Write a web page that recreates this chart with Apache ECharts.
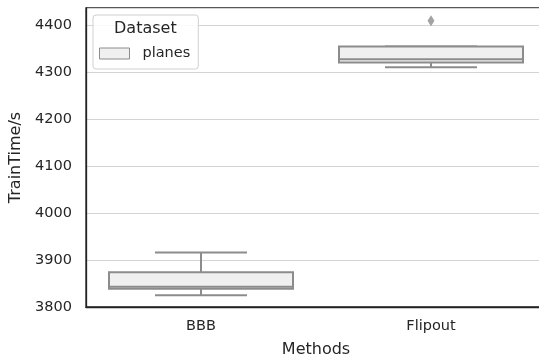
<!DOCTYPE html>
<html>
<head>
<meta charset="utf-8">
<script src="https://cdn.jsdelivr.net/npm/echarts@6/dist/echarts.min.js"></script>
<style>
html, body { margin: 0; padding: 0; background: #fff; }
#chart { width: 539px; height: 360px; }
</style>
</head>
<body>
<div id="chart"></div>
<script>
// 方法 / 箱线图统计值
var methods = ['BBB', 'Flipout'];
var lowWhisker = [3825, 4310];
var q1 = [3839, 4320];
var median = [3843, 4327];
var q3 = [3874, 4354];
var highWhisker = [3916, 4354];
var outliers = [[1, 4409]];
var yTicks = [3800, 3900, 4000, 4100, 4200, 4300, 4400];

var lineColor = '#8c8c8c';
var fillColor = '#f0f0f0';
var textColor = '#262626';

var boxData = [];
for (var i = 0; i < methods.length; i++) {
	boxData.push([i, lowWhisker[i], q1[i], median[i], q3[i], highWhisker[i]]);
}

function renderBox(params, api) {
	var idx = api.value(0);
	var band = api.size([1, 0])[0];
	var w = band * 0.8;
	var cap = w / 2;
	var pLow = api.coord([idx, api.value(1)]);
	var pQ1 = api.coord([idx, api.value(2)]);
	var pMed = api.coord([idx, api.value(3)]);
	var pQ3 = api.coord([idx, api.value(4)]);
	var pHigh = api.coord([idx, api.value(5)]);
	var cx = pMed[0];
	var ls = { stroke: lineColor, lineWidth: 2 };
	return {
		type: 'group',
		children: [
			{ type: 'line', shape: { x1: cx, y1: pQ1[1], x2: cx, y2: pLow[1] }, style: ls },
			{ type: 'line', shape: { x1: cx, y1: pQ3[1], x2: cx, y2: pHigh[1] }, style: ls },
			{ type: 'line', shape: { x1: cx - cap / 2, y1: pLow[1], x2: cx + cap / 2, y2: pLow[1] }, style: ls },
			{ type: 'line', shape: { x1: cx - cap / 2, y1: pHigh[1], x2: cx + cap / 2, y2: pHigh[1] }, style: ls },
			{ type: 'rect', shape: { x: cx - w / 2, y: pQ3[1], width: w, height: pQ1[1] - pQ3[1] },
				style: { fill: fillColor, stroke: lineColor, lineWidth: 2 } },
			{ type: 'line', shape: { x1: cx - w / 2, y1: pMed[1], x2: cx + w / 2, y2: pMed[1] }, style: ls }
		]
	};
}

var myChart = echarts.init(document.getElementById('chart'));
var option = {
	backgroundColor: '#fff',
	animation: false,
	textStyle: { fontFamily: 'DejaVu Sans' },
	grid: {
		left: 86,
		right: -7,
		top: 8,
		bottom: 53,
		containLabel: false,
		outerBoundsMode: 'none',
		show: true,
		borderColor: '#222',
		borderWidth: 1.3,
		backgroundColor: 'transparent'
	},
	title: {
		text: 'Dataset',
		left: 114,
		top: 21,
		padding: 0,
		textStyle: { fontSize: 16, fontWeight: 'normal', color: textColor, fontFamily: 'DejaVu Sans' }
	},
	legend: {
		left: 93,
		top: 15,
		orient: 'vertical',
		padding: [31, 8, 8, 6],
		itemWidth: 30,
		itemHeight: 11,
		backgroundColor: 'rgba(255,255,255,0.85)',
		borderColor: '#d0d0d0',
		borderWidth: 1,
		borderRadius: 3,
		data: [{
			name: 'planes',
			icon: 'rect',
			itemStyle: { color: fillColor, borderColor: lineColor, borderWidth: 1 }
		}],
		textStyle: { fontSize: 14.5, color: textColor, padding: [0, 0, 0, 8] }
	},
	xAxis: {
		type: 'category',
		data: methods,
		name: 'Methods',
		nameLocation: 'middle',
		nameGap: 35,
		nameTextStyle: { fontSize: 16, color: textColor },
		axisLine: { show: true, lineStyle: { color: '#222', width: 1.3 } },
		axisTick: { show: false },
		axisLabel: { fontSize: 14.5, color: textColor, margin: 12 },
		splitLine: { show: false }
	},
	yAxis: {
		type: 'value',
		min: 3800,
		max: 4436,
		interval: 100,
		name: 'TrainTime/s',
		nameLocation: 'middle',
		nameGap: 52,
		nameTextStyle: { fontSize: 16, color: textColor },
		axisLine: { show: true, lineStyle: { color: '#222', width: 1.3 } },
		axisTick: { show: false },
		axisLabel: {
			fontSize: 14.5, color: textColor, margin: 14, showMaxLabel: false,
			formatter: function(v) { return yTicks.indexOf(v) >= 0 ? String(v) : ''; }
		},
		splitLine: { show: true, lineStyle: { color: '#d4d4d4', width: 1.2 } }
	},
	series: [{
			name: 'planes',
			type: 'custom',
			renderItem: renderBox,
			encode: { x: 0, y: [1, 2, 3, 4, 5] },
			data: boxData,
			z: 3
		},
		{
			name: 'outliers',
			type: 'scatter',
			symbol: 'diamond',
			symbolSize: [7, 11],
			itemStyle: { color: lineColor },
			data: outliers,
			z: 4
		}
	]
};
myChart.setOption(option);
</script>
</body>
</html>
